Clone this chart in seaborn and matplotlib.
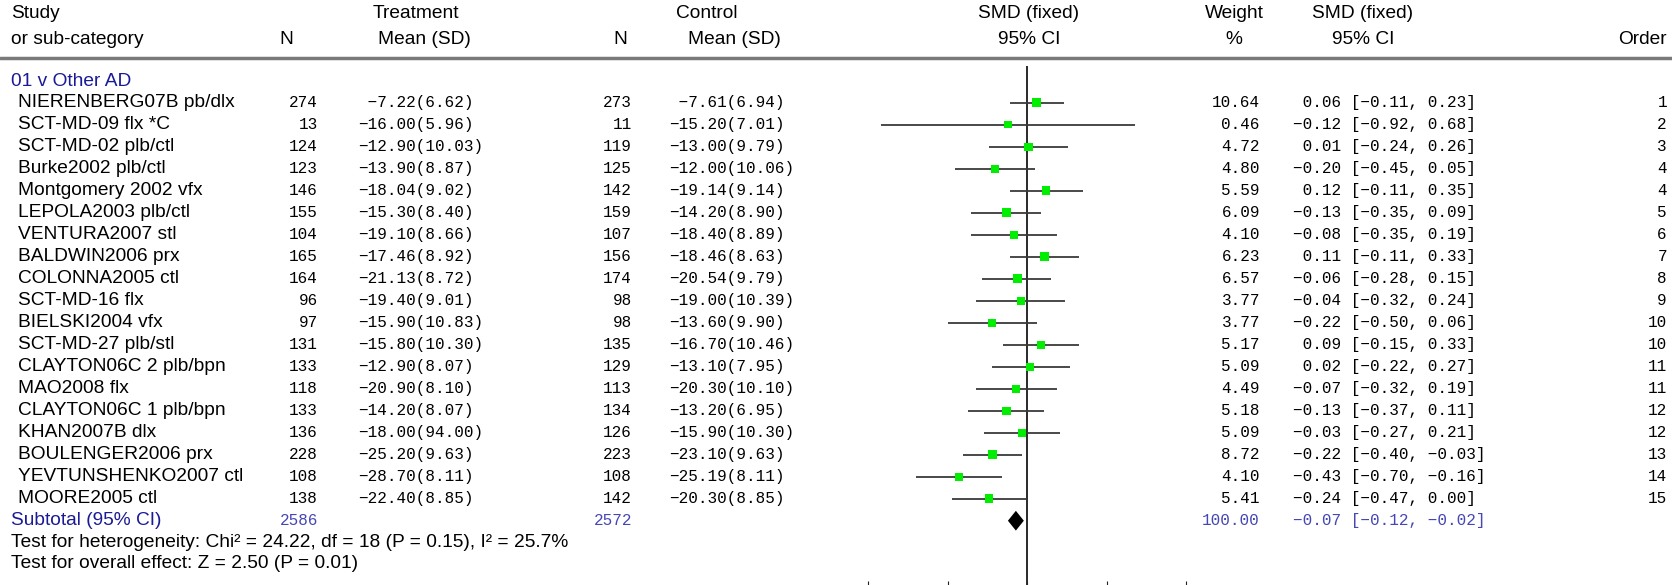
import numpy as np
import pandas as pd
import matplotlib
matplotlib.use("Agg")
import matplotlib.pyplot as plt
import seaborn as sns

# ---------------- data ----------------
studies = ["NIERENBERG07B pb/dlx", "SCT-MD-09 flx *C", "SCT-MD-02 plb/ctl", "Burke2002 plb/ctl",
           "Montgomery 2002 vfx", "LEPOLA2003 plb/ctl", "VENTURA2007 stl", "BALDWIN2006 prx",
           "COLONNA2005 ctl", "SCT-MD-16 flx", "BIELSKI2004 vfx", "SCT-MD-27 plb/stl",
           "CLAYTON06C 2 plb/bpn", "MAO2008 flx", "CLAYTON06C 1 plb/bpn", "KHAN2007B dlx",
           "BOULENGER2006 prx", "YEVTUNSHENKO2007 ctl", "MOORE2005 ctl"]
n_t = [274, 13, 124, 123, 146, 155, 104, 165, 164, 96, 97, 131, 133, 118, 133, 136, 228, 108, 138]
mean_t = [-7.22, -16.00, -12.90, -13.90, -18.04, -15.30, -19.10, -17.46, -21.13, -19.40, -15.90,
          -15.80, -12.90, -20.90, -14.20, -18.00, -25.20, -28.70, -22.40]
sd_t = [6.62, 5.96, 10.03, 8.87, 9.02, 8.40, 8.66, 8.92, 8.72, 9.01, 10.83, 10.30, 8.07, 8.10,
        8.07, 94.00, 9.63, 8.11, 8.85]
n_c = [273, 11, 119, 125, 142, 159, 107, 156, 174, 98, 98, 135, 129, 113, 134, 126, 223, 108, 142]
mean_c = [-7.61, -15.20, -13.00, -12.00, -19.14, -14.20, -18.40, -18.46, -20.54, -19.00, -13.60,
          -16.70, -13.10, -20.30, -13.20, -15.90, -23.10, -25.19, -20.30]
sd_c = [6.94, 7.01, 9.79, 10.06, 9.14, 8.90, 8.89, 8.63, 9.79, 10.39, 9.90, 10.46, 7.95, 10.10,
        6.95, 10.30, 9.63, 8.11, 8.85]
weight = [10.64, 0.46, 4.72, 4.80, 5.59, 6.09, 4.10, 6.23, 6.57, 3.77, 3.77, 5.17, 5.09, 4.49,
          5.18, 5.09, 8.72, 4.10, 5.41]
smd = [0.06, -0.12, 0.01, -0.20, 0.12, -0.13, -0.08, 0.11, -0.06, -0.04, -0.22, 0.09, 0.02, -0.07,
       -0.13, -0.03, -0.22, -0.43, -0.24]
ci_lo = [-0.11, -0.92, -0.24, -0.45, -0.11, -0.35, -0.35, -0.11, -0.28, -0.32, -0.50, -0.15, -0.22,
         -0.32, -0.37, -0.27, -0.40, -0.70, -0.47]
ci_hi = [0.23, 0.68, 0.26, 0.05, 0.35, 0.09, 0.19, 0.33, 0.15, 0.24, 0.06, 0.33, 0.27, 0.19, 0.11,
         0.21, -0.03, -0.16, 0.00]
order = [1, 2, 3, 4, 4, 5, 6, 7, 8, 9, 10, 10, 11, 11, 12, 12, 13, 14, 15]

group_label = "01 v Other AD"
sub_n_t, sub_n_c = 2586, 2572
sub_weight = 100.00
sub_smd, sub_lo, sub_hi = -0.07, -0.12, -0.02
het_text = "Test for heterogeneity: Chi² = 24.22, df = 18 (P = 0.15), I² = 25.7%"
eff_text = "Test for overall effect: Z = 2.50 (P = 0.01)"
x_ticks = [-1, -0.5, 0, 0.5, 1]

df = pd.DataFrame({"study": studies, "smd": smd, "lo": ci_lo, "hi": ci_hi, "weight": weight})
df["row"] = np.arange(len(df))

# ---------------- style ----------------
sns.set_theme(style="white")
plt.rcParams["font.family"] = ["Liberation Sans", "DejaVu Sans"]
MONO = ["Liberation Mono", "DejaVu Sans Mono"]
SANS = ["Liberation Sans", "DejaVu Sans"]
FS_SANS = 13.8
FS_MONO = 11.5
BLUE_LBL = "#1a1a96"
BLUE_NUM = "#4646b4"

W, H = 1672, 585
fig = plt.figure(figsize=(W / 100, H / 100), dpi=100)

ROW0, STEP = 102.7, 22.0          # pixel y of first row, row pitch
def r(py):
    return (py - ROW0) / STEP

# text axes: x in pixels, y in row units
ax_t = fig.add_axes([0, 0, 1, 1])
ax_t.set_xlim(0, W)
ax_t.set_ylim(r(H), r(0))
ax_t.axis("off")

# forest axes
X0, SC = 1027.0, 159.0           # pixel of zero, pixels per unit
XL, XR = -1.2, 1.2
extra = 3
ax_f = fig.add_axes([(X0 + XL * SC) / W, -extra / H, (XR - XL) * SC / W, (H + extra) / H])
ax_f.set_xlim(XL, XR)
ax_f.set_ylim(r(H + extra), r(0))
ax_f.patch.set_alpha(0)
for s in ax_f.spines.values():
    s.set_visible(False)
ax_f.set_xticks(x_ticks)
ax_f.set_xticklabels([])
ax_f.set_yticks([])
ax_f.tick_params(axis="x", direction="in", length=5, width=0.8, color="#222222", bottom=True)

# zero line
ax_f.vlines(0, r(66), r(H + extra), color="#2a2a2a", lw=1.4, zorder=1)
# whiskers
ax_f.hlines(df["row"], df["lo"], df["hi"], color="#3a3a3a", lw=1.3, zorder=2)
# squares
df["size"] = 28 + 1.6 * df["weight"]
sns.scatterplot(data=df, x="smd", y="row", size="size", sizes=(df["size"].min(), df["size"].max()),
                marker="s", color="#00ee00", edgecolor="none", legend=False, ax=ax_f, zorder=3)
ax_f.set_xlabel("")
ax_f.set_ylabel("")
# diamond
sub_row = len(df)
dh = 0.45
ax_f.fill([sub_lo, sub_smd, sub_hi, sub_smd], [sub_row, sub_row - dh, sub_row, sub_row + dh],
          color="black", zorder=3, lw=0)

# ---------------- header ----------------
y1, y2 = r(13), r(39)
def T(x, y, s, ha="left", mono=False, color="black", fs=None):
    ax_t.text(x, y, s, ha=ha, va="center", color=color,
              family=MONO if mono else SANS, fontsize=fs or (FS_MONO if mono else FS_SANS))

T(11, y1, "Study"); T(11, y2, "or sub-category")
T(286, y2, "N", ha="center")
T(416, y1, "Treatment", ha="center"); T(424, y2, "Mean (SD)", ha="center")
T(620, y2, "N", ha="center")
T(707, y1, "Control", ha="center"); T(734, y2, "Mean (SD)", ha="center")
T(1029, y1, "SMD (fixed)", ha="center"); T(1029, y2, "95% CI", ha="center")
T(1234, y1, "Weight", ha="center"); T(1234, y2, "%", ha="center")
T(1363, y1, "SMD (fixed)", ha="center"); T(1363, y2, "95% CI", ha="center")
T(1667, y2, "Order", ha="right")
ax_t.axhline(r(58), color="#7a7a7a", lw=2.5)

T(11, r(81), group_label, color=BLUE_LBL)

def fm(v):
    return f"{v:.2f}".replace("-", "\u2212")

for i in range(len(studies)):
    y = i
    T(18, y, studies[i])
    T(318, y, str(n_t[i]), ha="right", mono=True)
    T(358, y, f"{fm(mean_t[i]):>6}({sd_t[i]:.2f})", mono=True)
    T(632, y, str(n_c[i]), ha="right", mono=True)
    T(669, y, f"{fm(mean_c[i]):>6}({sd_c[i]:.2f})", mono=True)
    T(1260, y, f"{weight[i]:.2f}", ha="right", mono=True)
    T(1293, y, f"{fm(smd[i]):>5} [{fm(ci_lo[i])}, {fm(ci_hi[i])}]", mono=True)
    T(1667, y, str(order[i]), ha="right", mono=True)

ys = len(studies)
T(11, ys, "Subtotal (95% CI)", color=BLUE_LBL)
T(318, ys, str(sub_n_t), ha="right", mono=True, color=BLUE_NUM)
T(632, ys, str(sub_n_c), ha="right", mono=True, color=BLUE_NUM)
T(1260, ys, f"{sub_weight:.2f}", ha="right", mono=True, color=BLUE_NUM)
T(1293, ys, f"{fm(sub_smd):>5} [{fm(sub_lo)}, {fm(sub_hi)}]", mono=True, color=BLUE_NUM)
T(11, ys + 0.97, het_text)
T(11, ys + 1.94, eff_text)

fig.savefig("out.png", dpi=100)
